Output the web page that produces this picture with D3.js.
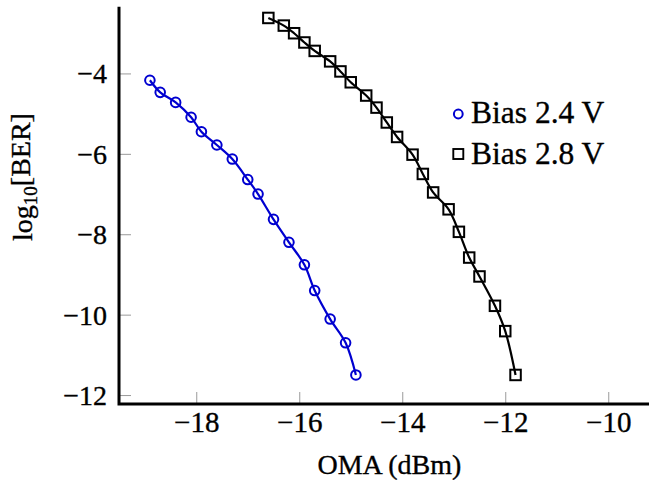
<!DOCTYPE html>
<html>
<head>
<meta charset="utf-8">
<script src="https://cdn.jsdelivr.net/npm/d3@7"></script>
<style>
  html, body { margin: 0; padding: 0; background: #fff; }
  svg { display: block; }
  svg text { font-family: 'Liberation Serif', serif !important; fill: #000; stroke: #000; stroke-width: 0.35px; }
</style>
</head>
<body>
<svg id="chart" width="649" height="482"></svg>
<script>
// ---- data ----
const oma24 = [-18.9, -18.7, -18.4, -18.1, -17.9, -17.6, -17.3, -17.0, -16.8, -16.5, -16.2, -15.9, -15.7, -15.4, -15.1, -14.9];
const ber24 = [-4.17, -4.47, -4.72, -5.09, -5.45, -5.78, -6.13, -6.64, -7.00, -7.63, -8.20, -8.76, -9.40, -10.11, -10.70, -11.50];
const oma28 = [-16.6, -16.3, -16.1, -15.9, -15.7, -15.4, -15.2, -15.0, -14.7, -14.5, -14.3, -14.1, -13.8, -13.6, -13.4, -13.1, -12.9, -12.7, -12.5, -12.2, -12.0, -11.8];
const ber28 = [-2.62, -2.81, -3.00, -3.23, -3.44, -3.70, -3.95, -4.22, -4.55, -4.85, -5.22, -5.58, -6.02, -6.50, -6.96, -7.38, -7.94, -8.58, -9.05, -9.78, -10.41, -11.50];
const xTicks = [-18, -16, -14, -12, -10];
const yTicks = [-12, -10, -8, -6, -4];
const seriesNames = ["Bias 2.4 V", "Bias 2.8 V"];
const xLabel = "OMA (dBm)";

const FONT = "'Liberation Serif', serif";
const svg = d3.select("#chart");
const axLeft = 119, axBottom = 404, axTop = 6.7;
const x = d3.scaleLinear().domain([-19.5, -9]).range([axLeft, 659.75]);
const y = d3.scaleLinear().domain([-12.21, -2.34]).range([403.5, 6.7]);

const blue = "#0000d0";

// ticks (grey, inward)
const xAxis = d3.axisBottom(x).tickValues(xTicks).tickSizeInner(-12).tickSizeOuter(0)
  .tickFormat(d3.format("d"));
const gx = svg.append("g").attr("transform", `translate(0,${axBottom})`).call(xAxis)
  .attr("font-family", null);
gx.select(".domain").remove();
gx.selectAll(".tick line").attr("stroke", "#9a9a9a").attr("stroke-width", 1);
gx.selectAll(".tick text").attr("y", 28).attr("dy", 0)
  .attr("font-size", 29).style("font-family", FONT).attr("fill", "#000");

const yAxis = d3.axisLeft(y).tickValues(yTicks).tickSizeInner(-12).tickSizeOuter(0)
  .tickFormat(d3.format("d"));
const gy = svg.append("g").attr("transform", `translate(${axLeft},0)`).call(yAxis)
  .attr("font-family", null);
gy.select(".domain").remove();
gy.selectAll(".tick line").attr("stroke", "#9a9a9a").attr("stroke-width", 1);
gy.selectAll(".tick text").attr("x", -12).attr("dy", "0.34em")
  .attr("font-size", 28).style("font-family", FONT).attr("fill", "#000");

// axis lines
svg.append("path")
  .attr("d", `M${axLeft},${axTop}V${axBottom}H649`)
  .attr("fill", "none").attr("stroke", "#000").attr("stroke-width", 3)
  .attr("stroke-linejoin", "miter");

// series
const s24 = oma24.map((v, i) => [v, ber24[i]]);
const s28 = oma28.map((v, i) => [v, ber28[i]]);
const line = d3.line().x(d => x(d[0])).y(d => y(d[1])).curve(d3.curveCatmullRom.alpha(0.5));

svg.append("path").datum(s24).attr("d", line)
  .attr("fill", "none").attr("stroke", blue).attr("stroke-width", 2.2);
svg.append("path").datum(s28).attr("d", line)
  .attr("fill", "none").attr("stroke", "#000").attr("stroke-width", 2.2);

svg.append("g").selectAll("circle").data(s24).join("circle")
  .attr("cx", d => x(d[0])).attr("cy", d => y(d[1])).attr("r", 4.8)
  .attr("fill", "none").attr("stroke", blue).attr("stroke-width", 2);

const sq = 10.5;
svg.append("g").selectAll("rect").data(s28).join("rect")
  .attr("x", d => x(d[0]) - sq / 2).attr("y", d => y(d[1]) - sq / 2)
  .attr("width", sq).attr("height", sq)
  .attr("fill", "none").attr("stroke", "#000").attr("stroke-width", 2);

// axis labels
svg.append("text").attr("x", 389.4).attr("y", 474).attr("text-anchor", "middle")
  .attr("font-size", 28).style("font-family", FONT).text(xLabel);

const yl = svg.append("text").attr("transform", "translate(32,177) rotate(-90)")
  .attr("text-anchor", "middle").attr("font-size", 28).style("font-family", FONT);
yl.append("tspan").text("log");
yl.append("tspan").attr("font-size", 19).attr("dy", "0.25em").text("10");
yl.append("tspan").attr("dy", "-0.25em").text("[BER]");

// legend
const lg = svg.append("g");
lg.append("circle").attr("cx", 458.3).attr("cy", 114).attr("r", 4.4)
  .attr("fill", "none").attr("stroke", blue).attr("stroke-width", 2);
lg.append("rect").attr("x", 458.3 - 5).attr("y", 154 - 5).attr("width", 10).attr("height", 10)
  .attr("fill", "none").attr("stroke", "#000").attr("stroke-width", 1.9);
lg.append("text").attr("x", 471).attr("y", 123.3).attr("font-size", 31.5).style("font-family", FONT).text(seriesNames[0]);
lg.append("text").attr("x", 471).attr("y", 164).attr("font-size", 31.5).style("font-family", FONT).text(seriesNames[1]);
</script>
</body>
</html>
